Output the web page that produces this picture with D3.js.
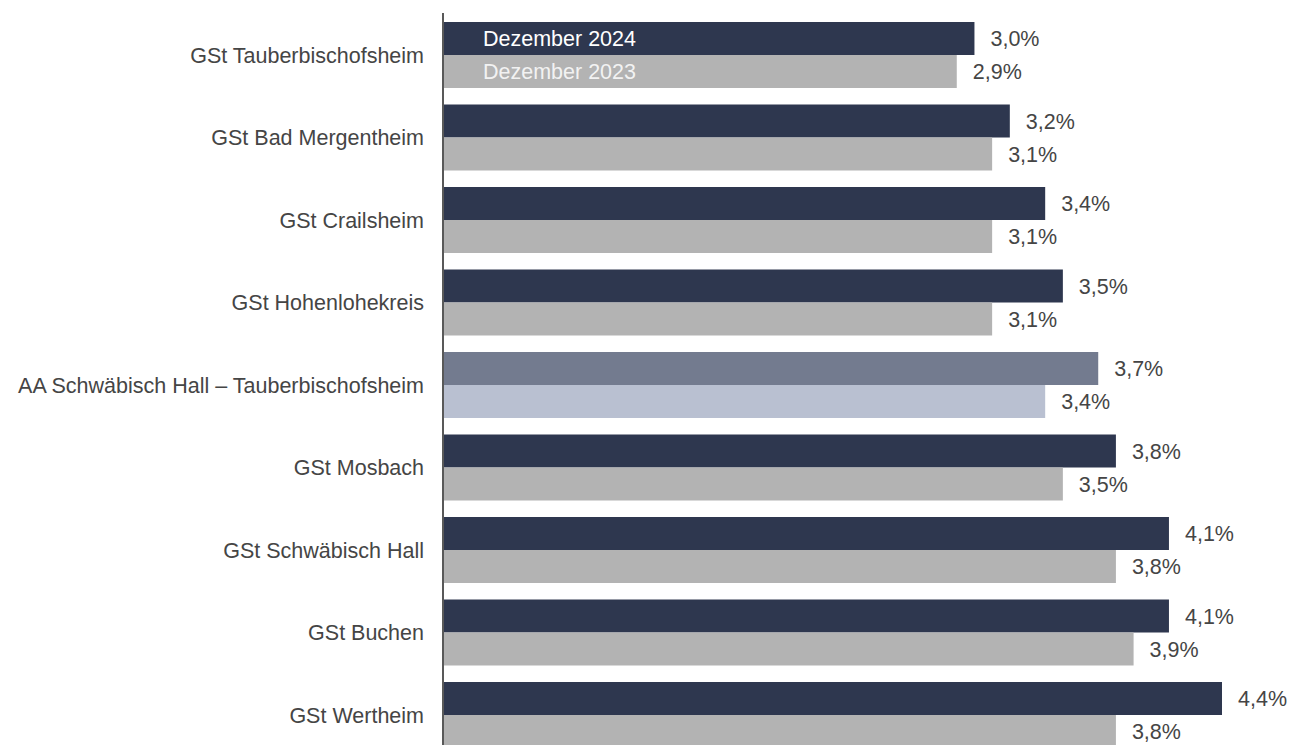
<!DOCTYPE html>
<html>
<head>
<meta charset="utf-8">
<script src="https://cdn.jsdelivr.net/npm/d3@7"></script>
<style>
  html, body { margin: 0; padding: 0; background: #fff; }
  #chart { width: 1297px; height: 745px; overflow: hidden; }
  text { font-family: "Liberation Sans", Arial, sans-serif; }
</style>
</head>
<body>
<div id="chart"></div>
<script>
// data
const categories = [
  "GSt Tauberbischofsheim",
  "GSt Bad Mergentheim",
  "GSt Crailsheim",
  "GSt Hohenlohekreis",
  "AA Schwäbisch Hall – Tauberbischofsheim",
  "GSt Mosbach",
  "GSt Schwäbisch Hall",
  "GSt Buchen",
  "GSt Wertheim"
];
const seriesNames = ["Dezember 2024", "Dezember 2023"];
const values2024 = [3.0, 3.2, 3.4, 3.5, 3.7, 3.8, 4.1, 4.1, 4.4];
const values2023 = [2.9, 3.1, 3.1, 3.1, 3.4, 3.5, 3.8, 3.9, 3.8];
const highlight = "AA Schwäbisch Hall – Tauberbischofsheim";

const colors = { "Dezember 2024": "#2e374f", "Dezember 2023": "#b3b3b3" };
const hlColors = { "Dezember 2024": "#737b8f", "Dezember 2023": "#b9c0d1" };

const rows = categories.map((c, i) => ({
  cat: c,
  bars: [
    { series: seriesNames[0], value: values2024[i] },
    { series: seriesNames[1], value: values2023[i] }
  ]
}));

const width = 1297, height = 745;
const fontSize = "21.5px";
const svg = d3.select("#chart").append("svg")
  .attr("width", width)
  .attr("height", height);

const x = d3.scaleLinear().domain([0, 4.4]).range([444, 1222]);
const y = d3.scaleBand().domain(categories).range([13.75, 756.25])
  .paddingInner(0.2).paddingOuter(0.1);
const ySub = d3.scaleBand().domain(seriesNames).range([0, y.bandwidth()]);

const fmt = v => d3.format(".1f")(v).replace(".", ",") + "%";

const groups = svg.selectAll("g.group")
  .data(rows)
  .join("g")
  .attr("class", "group")
  .attr("transform", d => `translate(0,${y(d.cat)})`);

groups.selectAll("rect")
  .data(d => d.bars.map(b => ({ ...b, cat: d.cat })))
  .join("rect")
  .attr("x", x(0))
  .attr("y", d => ySub(d.series))
  .attr("width", d => x(d.value) - x(0))
  .attr("height", ySub.bandwidth())
  .attr("fill", d => d.cat === highlight ? hlColors[d.series] : colors[d.series]);

// value labels
groups.selectAll("text.val")
  .data(d => d.bars)
  .join("text")
  .attr("class", "val")
  .attr("x", d => x(d.value) + 16)
  .attr("y", d => ySub(d.series) + ySub.bandwidth() / 2)
  .attr("dy", "0.35em")
  .attr("font-size", fontSize)
  .attr("fill", "#454545")
  .text(d => fmt(d.value));

// category labels
groups.append("text")
  .attr("x", 424)
  .attr("y", y.bandwidth() / 2)
  .attr("dy", "0.35em")
  .attr("text-anchor", "end")
  .attr("font-size", fontSize)
  .attr("fill", "#454545")
  .text(d => d.cat);

// legend inside first group's bars
svg.selectAll("text.legend")
  .data(seriesNames)
  .join("text")
  .attr("class", "legend")
  .attr("x", 483)
  .attr("y", d => y(categories[0]) + ySub(d) + ySub.bandwidth() / 2)
  .attr("dy", "0.35em")
  .attr("font-size", fontSize)
  .attr("fill", (d, i) => i === 0 ? "#ffffff" : "#f2f2f2")
  .text(d => d);

// axis line
svg.append("line")
  .attr("x1", 443).attr("x2", 443)
  .attr("y1", 13).attr("y2", 760)
  .attr("stroke", "#595959")
  .attr("stroke-width", 2);
</script>
</body>
</html>
